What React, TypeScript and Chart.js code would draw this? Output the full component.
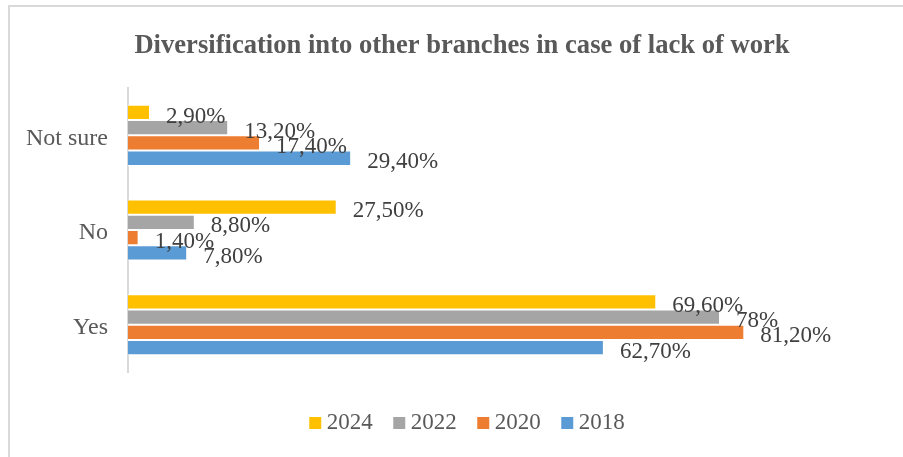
import React, { useEffect, useRef } from "react";
import { Chart, registerables } from "chart.js";

Chart.register(...registerables);

const categories = ["Not sure", "No", "Yes"];
const seriesNames = ["2024", "2022", "2020", "2018"];
const values2024 = [2.9, 27.5, 69.6];
const values2022 = [13.2, 8.8, 78];
const values2020 = [17.4, 1.4, 81.2];
const values2018 = [29.4, 7.8, 62.7];
const seriesColors = ["#FFC000", "#A5A5A5", "#ED7D31", "#5B9BD5"];
const titleText = "Diversification into other branches in case of lack of work";

const FONT = '"Liberation Serif", "Times New Roman", serif';

function fmt(v: number): string {
  if (Number.isInteger(v)) return `${v}%`;
  return `${v.toFixed(2).replace(".", ",")}%`;
}

// legend marker: 12px square drawn inside a wider transparent image so that it
// sits closer to its text, like the original legend
function legendMarker(color: string): HTMLCanvasElement {
  const c = document.createElement("canvas");
  c.width = 40;
  c.height = 12;
  const g = c.getContext("2d")!;
  g.fillStyle = color;
  g.fillRect(22, 0, 12, 12);
  return c;
}

const valueLabels = {
  id: "valueLabels",
  afterDatasetsDraw(chart: any) {
    const ctx = chart.ctx;
    ctx.save();
    ctx.font = `23px ${FONT}`;
    ctx.fillStyle = "#404040";
    ctx.textAlign = "left";
    ctx.textBaseline = "middle";
    chart.data.datasets.forEach((ds: any, di: number) => {
      const meta = chart.getDatasetMeta(di);
      meta.data.forEach((bar: any, i: number) => {
        ctx.fillText(fmt(ds.data[i] as number), bar.x + 16, bar.y + 4);
      });
    });
    ctx.restore();
  },
};

export default function App() {
  const ref = useRef<HTMLCanvasElement | null>(null);

  useEffect(() => {
    if (!ref.current) return;
    const all = [values2024, values2022, values2020, values2018];
    const chart = new Chart(ref.current, {
      type: "bar",
      data: {
        labels: categories,
        datasets: seriesNames.map((name, i) => ({
          label: name,
          data: all[i],
          backgroundColor: seriesColors[i],
          borderColor: "#ffffff",
          borderWidth: 1,
          barPercentage: 1,
          categoryPercentage: 0.645,
          pointStyle: legendMarker(seriesColors[i]),
        })),
      },
      options: {
        indexAxis: "y",
        animation: false,
        responsive: false,
        devicePixelRatio: 1,
        layout: { padding: { left: 0, right: 0, top: 0, bottom: 12.5 } },
        scales: {
          x: {
            min: 0,
            max: 100,
            display: true,
            grid: { display: false, drawTicks: false },
            border: { display: false },
            ticks: { display: false },
            afterFit: (s: any) => {
              s.height = 29;
            },
          },
          y: {
            grid: { display: false, drawTicks: false },
            border: { display: true, color: "#d9d9d9", width: 2 },
            ticks: {
              padding: 20,
              labelOffset: 3,
              color: "#595959",
              font: { family: FONT, size: 24 },
            },
            afterFit: (s: any) => {
              s.width = 128;
            },
          },
          yRight: {
            type: "category",
            position: "right",
            display: true,
            grid: { display: false, drawTicks: false },
            border: { display: false },
            ticks: { display: false },
            afterFit: (s: any) => {
              s.width = 37;
            },
          },
        },
        plugins: {
          title: {
            display: true,
            text: titleText,
            color: "#595959",
            font: { family: FONT, size: 26.6, weight: "bold", lineHeight: 1.2 },
            padding: { top: 30, bottom: 26.1 },
          },
          legend: {
            position: "bottom",
            labels: {
              usePointStyle: true,
              pointStyleWidth: 16,
              boxHeight: 12,
              padding: 10.5,
              color: "#595959",
              font: { family: FONT, size: 23 },
            },
          },
          tooltip: { enabled: false },
        },
      },
      plugins: [valueLabels],
    });
    return () => chart.destroy();
  }, []);

  return (
    <div
      style={{
        position: "fixed",
        left: 0,
        top: 0,
        width: 903,
        height: 457,
        overflow: "hidden",
        background: "#ffffff",
      }}
    >
      <div
        style={{
          position: "absolute",
          left: 8,
          top: 5,
          width: 1200,
          height: 1200,
          borderLeft: "2px solid #d9d9d9",
          borderTop: "2px solid #d9d9d9",
        }}
      />
      <canvas
        ref={ref}
        width={924}
        height={457}
        style={{ position: "absolute", left: 0, top: 0, width: 924, height: 457 }}
      />
    </div>
  );
}
